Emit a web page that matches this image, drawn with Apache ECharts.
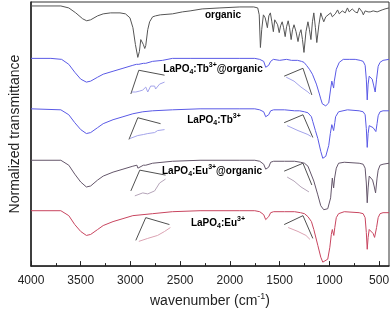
<!DOCTYPE html>
<html><head><meta charset="utf-8">
<script src="https://cdn.jsdelivr.net/npm/echarts@6/dist/echarts.min.js"></script>
<style>html,body{margin:0;padding:0;background:#fff}#c{width:392px;height:313px}</style>
</head><body><div id="c"></div>
<script>
// x: wavenumber (cm-1); y: offset normalized transmittance (arbitrary stacked units)
const xTickLabels = [4000,3500,3000,2500,2000,1500,1000,500];
const xMinorTicks = [3750,3250,2750,2250,1750,1250,750];

const organic = [[4000,263],[3700,263],[3620,261],[3550,256],[3480,250],[3440,248],[3400,249],[3330,253],[3274,255],[3200,256],[3105,256],[3050,255],[3005,251],[2975,241],[2950,224],[2926,211],[2910,217],[2896,229],[2886,227],[2870,224],[2856,220],[2846,223],[2826,239],[2807,247],[2777,252],[2747,253],[2700,254],[2578,255],[2478,257],[2400,258],[2279,260],[2100,261],[1900,262],[1760,262],[1720,261],[1705,254],[1693,221],[1680,239],[1663,254],[1645,251],[1623,241],[1608,253],[1593,256],[1578,247],[1563,237],[1549,249],[1534,251],[1520,244],[1504,236],[1490,243],[1474,247],[1460,241],[1444,232],[1430,242],[1414,248],[1400,241],[1384,229],[1370,239],[1355,244],[1335,237],[1315,227],[1300,235],[1285,239],[1270,229],[1255,216],[1235,237],[1215,247],[1200,239],[1185,229],[1170,247],[1156,256],[1140,241],[1126,226],[1105,244],[1086,256],[1070,251],[1056,247],[1036,252],[1016,251],[987,256],[970,252],[957,251],[940,255],[917,259],[900,255],[887,254],[870,258],[857,260],[840,256],[818,261],[800,257],[788,256],[770,260],[758,261],[740,257],[718,256],[700,261],[688,262],[670,257],[658,254],[640,258],[625,259],[610,257],[589,257],[570,259],[559,258],[540,256],[519,257],[500,258],[469,259],[440,260],[400,261]];

const tbOrganic = [[4000,210],[3800,210],[3692,209],[3620,204],[3560,196],[3500,189],[3443,186],[3400,187],[3330,191],[3274,194],[3175,197],[3075,200],[2976,203],[2940,204],[2925,202],[2916,204],[2870,205],[2856,203],[2846,205],[2777,207],[2677,208],[2578,210],[2400,210],[2200,210],[1900,210],[1750,210],[1700,209],[1660,207],[1640,201],[1624,199],[1610,203],[1590,207],[1563,209],[1500,208],[1430,209],[1380,208],[1320,208],[1280,207],[1255,206],[1230,203],[1200,199],[1170,194],[1157,192],[1130,184],[1100,174],[1086,169],[1070,164],[1056,162],[1036,162],[1006,165],[987,179],[975,187],[965,183],[957,180],[950,187],[930,199],[900,206],[860,209],[800,209],[740,209],[690,208],[660,207],[640,203],[628,189],[619,168],[610,184],[599,192],[580,190],[569,189],[555,183],[539,176],[525,189],[509,202],[490,206],[460,208],[400,209]];

const tbPure = [[4000,159],[3700,158],[3620,153],[3560,145],[3500,138],[3443,134],[3400,135],[3330,140],[3274,144],[3175,148],[3075,151],[2976,154],[2876,156],[2777,157],[2578,158],[2300,159],[1900,159],[1750,159],[1700,158],[1660,156],[1640,151],[1624,149],[1610,153],[1590,157],[1560,158],[1450,158],[1350,157],[1300,157],[1250,156],[1215,155],[1180,151],[1166,146],[1140,137],[1116,129],[1086,116],[1066,109],[1050,109],[1036,111],[1006,122],[990,134],[975,143],[967,142],[957,137],[945,145],[937,151],[907,156],[818,158],[700,157],[660,156],[640,153],[628,139],[619,120],[610,134],[599,142],[580,141],[560,140],[545,138],[532,136],[520,144],[509,152],[490,156],[460,157],[400,157]];

const euOrganic = [[4000,107],[3700,107],[3620,102],[3560,93],[3500,85],[3443,80],[3400,81],[3330,87],[3274,91],[3175,95],[3075,98],[2976,101],[2935,102],[2925,99],[2912,101],[2870,102],[2856,100],[2846,102],[2777,104],[2578,106],[2300,107],[1900,107],[1750,107],[1700,106],[1660,103],[1640,98],[1624,96],[1610,100],[1590,105],[1560,106],[1450,106],[1350,106],[1290,105],[1250,104],[1215,101],[1156,86],[1116,72],[1086,61],[1056,57],[1016,58],[987,69],[970,89],[962,91],[957,79],[947,89],[930,99],[907,104],[850,105],[700,104],[660,103],[640,99],[628,84],[619,64],[610,79],[599,91],[580,89],[565,87],[550,81],[535,74],[520,89],[509,97],[490,102],[460,103],[400,104]];

const euPure = [[4000,56],[3700,56],[3620,51],[3560,42],[3500,35],[3443,31],[3400,32],[3330,37],[3274,41],[3175,45],[3075,48],[2976,51],[2777,53],[2578,55],[2300,56],[1900,56],[1750,56],[1700,55],[1660,52],[1640,47],[1624,46],[1610,50],[1590,54],[1560,55],[1450,55],[1350,55],[1290,54],[1250,53],[1215,50],[1180,45],[1156,37],[1116,21],[1086,9],[1066,4],[1046,4],[1016,7],[995,19],[980,32],[970,37],[962,37],[955,31],[945,39],[930,49],[907,53],[850,55],[700,54],[660,53],[640,49],[628,34],[619,17],[610,29],[599,37],[580,35],[560,33],[545,29],[537,28],[525,39],[509,49],[490,53],[460,54],[400,54]];

// inset frames (gray) and magnified traces (light), left and right per spectrum
const tbOrgFrame = [[2996,174],[2916,198],[2657,193],null,[1454,192],[1265,200],[1176,173]];
const tbOrgZoom = [[2986,176],[2946,176],[2906,177],[2876,178],[2846,181],[2826,176],[2797,182],[2757,182],[2747,179],[2707,184],[2657,186],null,[1434,191],[1355,187],[1285,181],[1215,176],[1195,174]];
const tbFrame = [[3015,128],[2926,150],[2697,144],null,[1454,145],[1265,153],[1166,130]];
const tbZoom = [[3005,129],[2926,132],[2870,133],[2826,134],[2757,135],[2727,137],[2657,138],null,[1424,142],[1315,137],[1215,133],[1185,131]];
const euOrgFrame = [[2996,76],[2906,97],[2647,92],null,[1454,96],[1265,104],[1176,82]];
const euOrgZoom = [[2956,71],[2876,74],[2826,73],[2807,72],[2757,76],[2707,84],[2647,88],null,[1424,90],[1355,86],[1285,80],[1205,75]];
const euFrame = [[2946,26],[2846,49],[2608,42],null,[1454,42],[1265,51],[1166,28]];
const euZoom = [[2916,25],[2826,28],[2727,31],[2657,35],[2598,39],null,[1414,39],[1315,35],[1235,31],[1195,27]];

const labels = [
  {parts:[['b','organic']], x:223, y:15},
  {parts:[['b','LaPO'],['sub','4'],['b',':Tb'],['sup','3+'],['b','@organic']], x:213, y:69},
  {parts:[['b','LaPO'],['sub','4'],['b',':Tb'],['sup','3+']], x:214, y:120},
  {parts:[['b','LaPO'],['sub','4'],['b',':Eu'],['sup','3+'],['b','@organic']], x:212, y:171},
  {parts:[['b','LaPO'],['sub','4'],['b',':Eu'],['sup','3+']], x:218, y:223}
];

const FONT = 'Liberation Sans, Arial, sans-serif';
const rich = {
  b:{fontSize:10,fontWeight:'bold',fontFamily:FONT,color:'#111',lineHeight:14},
  sub:{fontSize:7,fontWeight:'bold',fontFamily:FONT,color:'#111',verticalAlign:'bottom',lineHeight:14,padding:[4,0,0,0]},
  sup:{fontSize:7,fontWeight:'bold',fontFamily:FONT,color:'#111',verticalAlign:'top',lineHeight:14,padding:[0,0,5,0]}
};

function line(data, color, z){
  return {type:'line', data:data, showSymbol:false, symbol:'none', connectNulls:false,
    lineStyle:{color:color,width:1}, itemStyle:{color:color}, z:z||2, animation:false};
}

const chart = echarts.init(document.getElementById('c'), null, {renderer:'canvas'});
chart.setOption({
  animation:false,
  grid:{left:27,right:3,top:2,bottom:44,show:true,borderColor:'#333',borderWidth:1,backgroundColor:'transparent'},
  xAxis:[{
    type:'value', min:400, max:4000, inverse:true,
    name:'{a|wavenumber (cm}{s|-1}{a|)}', nameLocation:'middle', nameGap:23,
    nameTextStyle:{rich:{a:{fontSize:14,fontFamily:FONT,color:'#222',lineHeight:18},s:{fontSize:9,fontFamily:FONT,color:'#222',verticalAlign:'top',lineHeight:18,padding:[0,0,6,0]}}},
    axisLine:{show:true,onZero:false,lineStyle:{color:'#222',width:1.5}},
    axisTick:{show:true,inside:true,length:5,customValues:xTickLabels,lineStyle:{color:'#222',width:1}},
    axisLabel:{customValues:xTickLabels,margin:9,fontSize:12,fontFamily:FONT,color:'#222',formatter:v => String(v)},
    splitLine:{show:false}
  },{
    type:'value', min:400, max:4000, inverse:true, position:'bottom',
    axisLine:{show:false},
    axisTick:{show:true,inside:true,length:3,customValues:xMinorTicks,lineStyle:{color:'#222',width:1}},
    axisLabel:{show:false}, splitLine:{show:false}
  }],
  yAxis:{
    type:'value', min:0, max:267,
    name:'Normalized transmittance', nameLocation:'middle', nameGap:9,
    nameTextStyle:{fontSize:14,fontFamily:FONT,color:'#222'},
    axisLine:{show:true,onZero:false,lineStyle:{color:'#222',width:1.5}},
    axisTick:{show:false}, axisLabel:{show:false}, splitLine:{show:false}
  },
  series:[
    line(organic,'#555555',3),
    line(tbOrganic,'#5a5ae6',3),
    line(tbPure,'#5a5ae6',3),
    line(euOrganic,'#64566a',3),
    line(euPure,'#c8455f',3),
    line(tbOrgFrame,'#505050',2),
    line(tbOrgZoom,'#a3a3ea',2),
    line(tbFrame,'#505050',2),
    line(tbZoom,'#a3a3ea',2),
    line(euOrgFrame,'#505050',2),
    line(euOrgZoom,'#b4a4b8',2),
    line(euFrame,'#505050',2),
    line(euZoom,'#dba2b2',2)
  ],
  graphic: labels.map(l => ({
    type:'text', x:l.x, y:l.y, z:10,
    style:{text:l.parts.map(p => '{'+p[0]+'|'+p[1]+'}').join(''), rich:rich, align:'center', verticalAlign:'middle'}
  }))
});
</script></body></html>
